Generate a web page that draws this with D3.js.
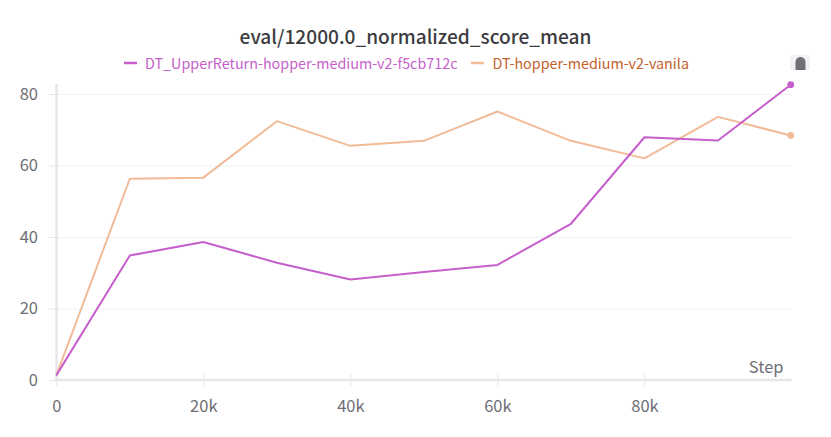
<!DOCTYPE html>
<html><head><meta charset="utf-8">
<script src="https://cdn.jsdelivr.net/npm/d3@7"></script>
<style>html,body{margin:0;padding:0;background:#fff}svg{display:block}
text{font-family:"Noto Sans CJK SC","Noto Sans",sans-serif}</style></head>
<body><svg id="c" width="831" height="437"></svg>
<script>
const titleText = "eval/12000.0_normalized_score_mean";
const steps = [0,10000,20000,30000,40000,50000,60000,70000,80000,90000,99900];
const upperReturn = [1.3,34.8,38.6,32.8,28.1,30.2,32.2,43.7,67.9,67,82.6];
const vanila = [1.3,56.3,56.6,72.4,65.5,66.9,75.1,66.9,62,73.6,68.4];
const seriesNames = ["DT_UpperReturn-hopper-medium-v2-f5cb712c","DT-hopper-medium-v2-vanila"];
const xTicks = [0,20000,40000,60000,80000];
const yTicks = [0,20,40,60,80];

const svg = d3.select("#c");
const x = d3.scaleLinear().domain([0,100000]).range([56.3,791.5]);
const y = d3.scaleLinear().domain([0,80]).range([380,94]);
const plotTop = 84;

svg.append("text").attr("x",415.5).attr("y",44).attr("text-anchor","middle")
  .attr("font-size",19.1).attr("font-weight",500).attr("fill","#3b3b40").text(titleText);

// grid
svg.append("g").selectAll("line").data(yTicks.slice(1)).join("line")
  .attr("x1",x.range()[0]).attr("x2",x.range()[1]).attr("y1",d=>y(d)+.5).attr("y2",d=>y(d)+.5)
  .attr("stroke","#f0f0f1").attr("stroke-width",1);

// axes
const xAxis = d3.axisBottom(x).tickValues(xTicks).tickFormat(d=>d?d/1000+"k":"0").tickSize(12);
const gx = svg.append("g").attr("transform","translate(0,374)").call(xAxis);
gx.select(".domain").remove();
gx.selectAll("line").attr("stroke","#e6e6e8");
gx.selectAll("text").attr("y",25).attr("dy","0.8em").attr("font-size",16.5).attr("fill","#6e6e76");
const yAxis = d3.axisLeft(y).tickValues(yTicks).tickSize(7);
const gy = svg.append("g").attr("transform","translate(56,0)").call(yAxis);
gy.select(".domain").remove();
gy.selectAll("line").attr("stroke","#e6e6e8");
gy.selectAll("text").attr("x",-18).attr("font-size",16.5).attr("fill","#6e6e76");

svg.append("line").attr("x1",56.5).attr("x2",56.5).attr("y1",plotTop).attr("y2",381)
  .attr("stroke","#e6e6e8").attr("stroke-width",2.5);
svg.append("line").attr("x1",55).attr("x2",x.range()[1]).attr("y1",380).attr("y2",380)
  .attr("stroke","#e6e6e8").attr("stroke-width",2.5);

svg.append("text").attr("x",783.5).attr("y",372.5).attr("text-anchor","end")
  .attr("font-size",16.5).attr("fill","#6e6e76").text("Step");

const line = d3.line().x((d,i)=>x(steps[i])).y(d=>y(d));
const colors = ["#c65fcb","#f2bb98"];
[vanila,upperReturn].forEach((s,k)=>{
  const c = k? colors[0]:colors[1];
  svg.append("path").attr("d",line(s)).attr("fill","none").attr("stroke",c).attr("stroke-width",2).attr("stroke-linejoin","round");
  svg.append("circle").attr("cx",x(steps[steps.length-1])).attr("cy",y(s[s.length-1])).attr("r",3.4).attr("fill",c);
});

// legend
const lg = svg.append("g");
lg.append("line").attr("x1",124).attr("x2",137).attr("y1",63).attr("y2",63).attr("stroke",colors[0]).attr("stroke-width",2.5);
lg.append("text").attr("x",145).attr("y",68.5).attr("font-size",14.35).attr("fill","#c65fcb").text(seriesNames[0]);
lg.append("line").attr("x1",471).attr("x2",484).attr("y1",63).attr("y2",63).attr("stroke",colors[1]).attr("stroke-width",2.5);
lg.append("text").attr("x",492.5).attr("y",68.5).attr("font-size",14.35).attr("fill","#c4622d").text(seriesNames[1]);

// small handle glyph at top right
svg.append("rect").attr("x",790).attr("y",55).attr("width",20).attr("height",15).attr("fill","#f2f2f3");
svg.append("path").attr("d","M795.5 70V62a5 5 0 0 1 10 0V70Z").attr("fill","#6f6f76");
</script></body></html>
